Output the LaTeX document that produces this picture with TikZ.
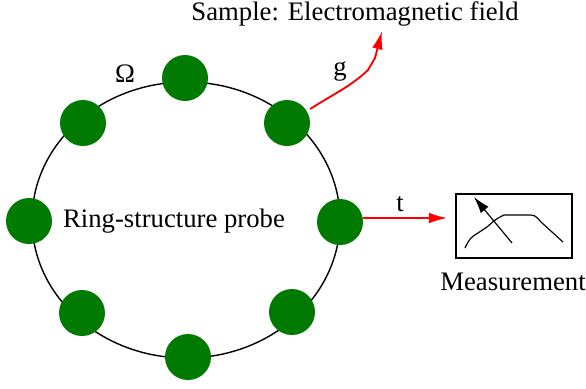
\documentclass[tikz,border=0pt]{standalone}
\usepackage{fontspec}
\setmainfont{Liberation Serif}
\usetikzlibrary{arrows.meta}
\definecolor{probegreen}{RGB}{0,122,0}
\tikzset{
	dot/.style={shape=circle, fill=probegreen, minimum size=1.38cm, inner sep=0pt},
	lbl/.style={font=\fontsize{22.8}{26}\selectfont, inner sep=0pt},
	sig/.style={red, line width=1.6pt, -{Latex[length=0.55cm, width=0.32cm]}}
}
\begin{document}
\begin{tikzpicture}[x=0.03cm, y=-0.03cm]
	\useasboundingbox (0, 0) rectangle (586, 388);
	% Ring and probe points:
	\draw[line width=1.2pt] (186, 220) ellipse [x radius=154, y radius=138];
	\node[dot] (p1) at (185, 78){};
	\node[dot] (p2) at (287, 123){};
	\node[dot] (p3) at (340, 222){};
	\node[dot] (p4) at (292, 312){};
	\node[dot] (p5) at (188, 357){};
	\node[dot] (p6) at (82, 313){};
	\node[dot] (p7) at (29, 221){};
	\node[dot] (p8) at (83, 123){};
	% Labels:
	\node[lbl] (omega) at (125, 74){Ω};
	\node[lbl] (probe) at (174, 221){Ring-structure probe};
	\node[lbl] (sample) at (355, 14){Sample: Electromagnetic field};
	\node[lbl] (glbl) at (340, 72){g};
	\node[lbl] (tlbl) at (400, 204){t};
	\node[lbl] (measlbl) at (513, 282){Measurement};
	% Measurement device:
	\node[shape=rectangle, draw, line width=1.2pt, minimum width=3.48cm, minimum height=1.92cm] (meas) at (514, 226){};
	\draw[line width=1pt] (465, 248) .. controls (470, 238) .. (478, 233) -- (487, 227) .. controls (496, 219) .. (504, 215) -- (526, 215) .. controls (535, 215) .. (541, 222) -- (563, 242);
	\draw[line width=1pt, -{Latex[length=0.5cm, width=0.3cm]}] (512, 243) -- (474, 197);
	% Signal arrows:
	\coordinate (gtip) at (382, 31);
	\draw[sig] (p2.east) ++(0, -14) .. controls (335, 93) and (350, 87) .. (368, 70) -- (375, 58) -- (gtip);
	\draw[sig, shorten >=0.24cm] (p3.east) ++(0, -4) coordinate (tstart) -- (tstart -| meas.west);
\end{tikzpicture}
\end{document}
